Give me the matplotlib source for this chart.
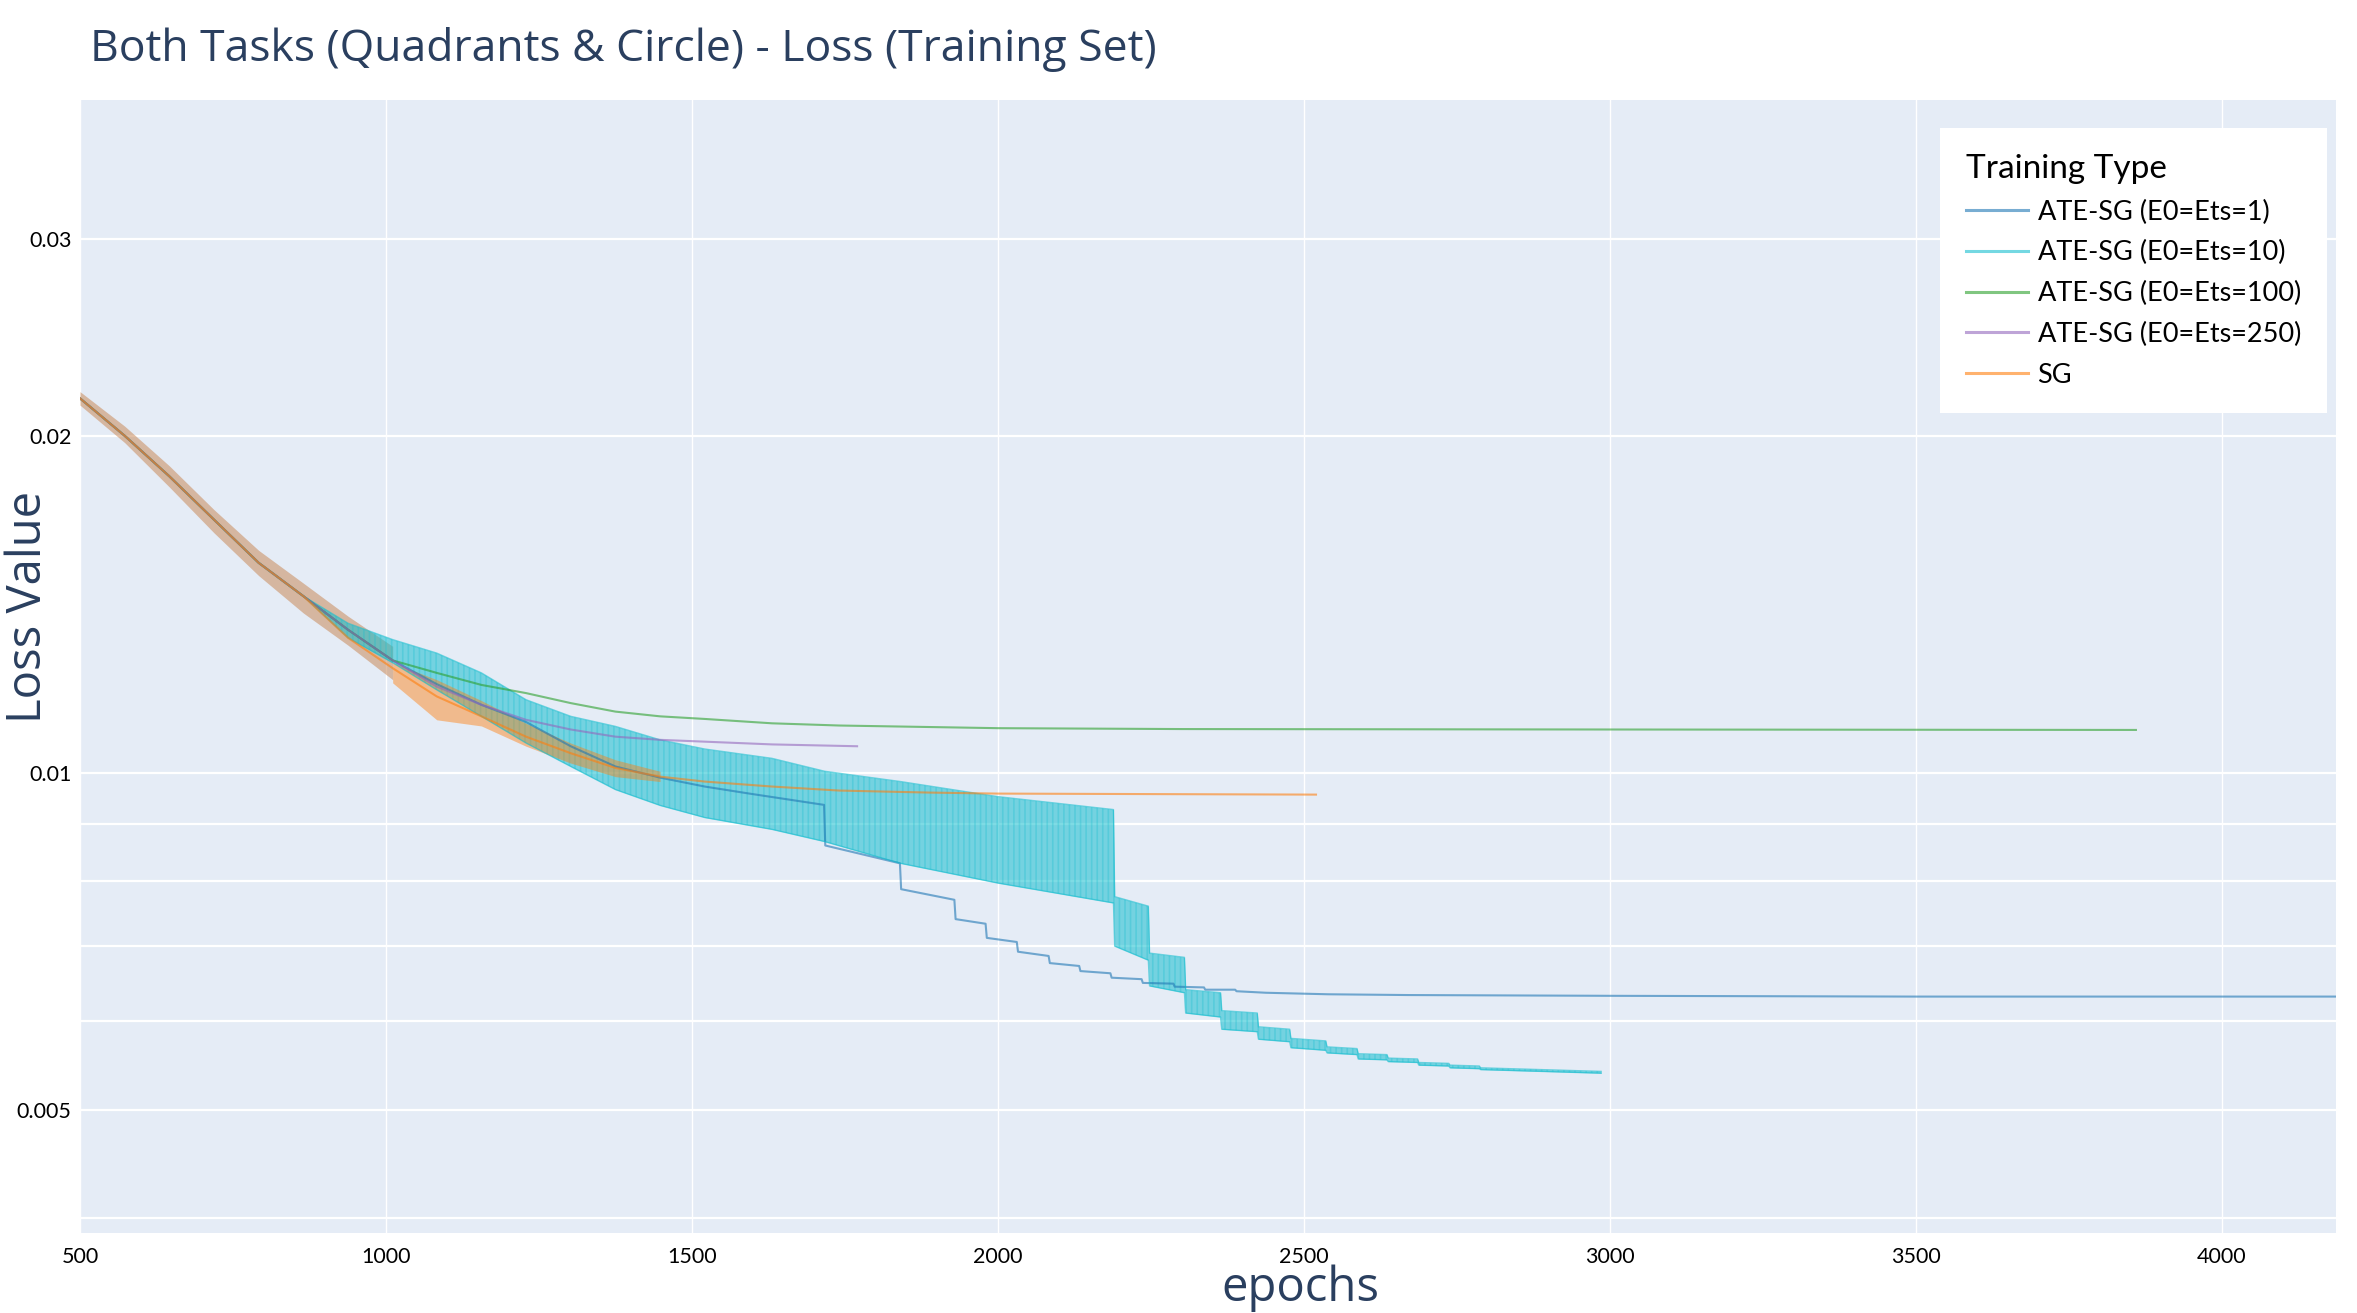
import matplotlib
matplotlib.use('Agg')
import matplotlib.pyplot as plt
from matplotlib.lines import Line2D
from matplotlib.ticker import FixedLocator, NullFormatter
import numpy as np

# ---- data (epochs, loss) ----
early_epochs = [500, 573, 646, 719, 792, 865, 938, 1011]
early_loss = [0.0216, 0.0200, 0.0184, 0.01683, 0.0154, 0.01438, 0.01342, 0.0126]
# spread of the noisy bundle that all runs share early on
bundle_hi = [0.0219, 0.0204, 0.0188, 0.01718, 0.0158, 0.01477, 0.0138, 0.01297]
bundle_lo = [0.0213, 0.01972, 0.0180, 0.01638, 0.0150, 0.01389, 0.0130, 0.01211]

# ATE-SG (E0=Ets=1)
e1_epochs = [1083, 1156, 1229, 1302, 1375, 1448, 1521, 1594, 1716, 1718, 1840, 1842,
             1929, 1931, 1980, 1982, 2031, 2033, 2083, 2085, 2133, 2135, 2184, 2186,
             2235, 2237, 2287, 2289, 2337, 2339, 2388, 2390, 2438, 2540, 2670, 3000,
             3500, 4300]
e1_loss = [0.0120, 0.0115, 0.0111, 0.01056, 0.01013, 0.0099, 0.00972, 0.00958, 0.00936,
           0.00861, 0.0083, 0.00787, 0.0077, 0.0074, 0.00733, 0.00712, 0.00706, 0.00692,
           0.00686, 0.00676, 0.00672, 0.00665, 0.00662, 0.00656, 0.00654, 0.00649,
           0.00648, 0.00644, 0.00643, 0.0064, 0.0064, 0.00638, 0.00636, 0.00634,
           0.00633, 0.00632, 0.00631, 0.00631]

# ATE-SG (E0=Ets=10): single line early, then an oscillating band (low/high envelope)
e10_line_epochs = [500, 573, 646, 719, 792, 865]
e10_line_loss = [0.0216, 0.0200, 0.0184, 0.01683, 0.0154, 0.01438]
e10_band_epochs = [865, 938, 1011, 1083, 1156, 1229, 1302, 1375, 1448, 1521, 1631, 1717,
                   1841, 2000, 2189, 2191, 2246, 2248, 2305, 2307, 2364, 2366, 2424,
                   2426, 2477, 2479, 2536, 2538, 2587, 2589, 2636, 2638, 2686, 2688,
                   2737, 2739, 2787, 2789, 2888, 2986]
e10_band_hi = [0.01438, 0.0136, 0.01315, 0.01279, 0.01228, 0.01162, 0.01123, 0.0110,
               0.0107, 0.0105, 0.0103, 0.01003, 0.00982, 0.00952, 0.00927, 0.00775,
               0.0076, 0.0069, 0.00684, 0.0064, 0.00636, 0.00613, 0.0061, 0.00593,
               0.0059, 0.00579, 0.00576, 0.00569, 0.00567, 0.00561, 0.0056, 0.00556,
               0.00555, 0.00551, 0.0055, 0.00548, 0.00547, 0.00545, 0.00543, 0.00541]
e10_band_lo = [0.01438, 0.0132, 0.01254, 0.01186, 0.01123, 0.01063, 0.01013, 0.00966,
               0.00935, 0.00912, 0.0089, 0.00868, 0.0083, 0.00797, 0.00765, 0.0070,
               0.0068, 0.00645, 0.00636, 0.0061, 0.00605, 0.0059, 0.00587, 0.00578,
               0.00575, 0.00568, 0.00565, 0.00562, 0.0056, 0.00555, 0.00554, 0.00552,
               0.00551, 0.00548, 0.00547, 0.00545, 0.00544, 0.00543, 0.00541, 0.00539]

# ATE-SG (E0=Ets=100)
e100_epochs = [1083, 1156, 1229, 1302, 1375, 1448, 1521, 1631, 1741, 2000, 2300, 3000, 3860]
e100_loss = [0.01228, 0.01198, 0.01178, 0.01154, 0.01134, 0.01123, 0.01117, 0.01107,
             0.01102, 0.01096, 0.01094, 0.01093, 0.01092]

# ATE-SG (E0=Ets=250)
e250_epochs = [1083, 1156, 1229, 1302, 1375, 1448, 1521, 1631, 1770]
e250_loss = [0.01194, 0.0115, 0.01115, 0.01093, 0.01077, 0.0107, 0.01066, 0.0106, 0.01056]

# SG (plus the spread of its noisy stretch)
sg_epochs = [938, 1011, 1083, 1156, 1229, 1302, 1375, 1448, 1521, 1631, 1741, 1888, 2000,
             2255, 2520]
sg_loss = [0.0132, 0.0124, 0.0117, 0.01123, 0.01077, 0.01041, 0.0101, 0.00992, 0.00982,
           0.00972, 0.00964, 0.0096, 0.00958, 0.00957, 0.00956]
sg_band_epochs = [1011, 1083, 1156, 1229, 1302, 1375, 1448]
sg_band_hi = [0.01254, 0.01211, 0.0116, 0.01107, 0.01063, 0.01027, 0.01003]
sg_band_lo = [0.01203, 0.01115, 0.01101, 0.01056, 0.0102, 0.00992, 0.00982]

labels = ['ATE-SG (E0=Ets=1)', 'ATE-SG (E0=Ets=10)', 'ATE-SG (E0=Ets=100)',
          'ATE-SG (E0=Ets=250)', 'SG']
colors = ['#1f77b4', '#17becf', '#2ca02c', '#9467bd', '#ff7f0e']

y_major = [0.005, 0.01, 0.02, 0.03]
y_major_labels = ['0.005', '0.01', '0.02', '0.03']
y_minor = [0.004, 0.006, 0.007, 0.008, 0.009, 0.04]
x_ticks = [500, 1000, 1500, 2000, 2500, 3000, 3500, 4000]

W, H = 2357, 1313
ALPHA = 0.6
LW = 1.5
TITLE_C = '#2a3f5f'
plt.rcParams['hatch.linewidth'] = 1.2

fig = plt.figure(figsize=(W / 100, H / 100), dpi=100)
left, right, top, bottom = 80, 2336, 100, 1233
ax = fig.add_axes([left / W, 1 - bottom / H, (right - left) / W, (bottom - top) / H])
ax.set_facecolor('#E5ECF6')
for s in ax.spines.values():
    s.set_visible(False)

ax.set_yscale('log')
ax.set_xlim(500, 4187)
ax.set_ylim(0.00388, 0.0399)


def join(a, b):
    return np.asarray(list(a) + list(b))


# noisy start shared by every run
ax.fill_between(early_epochs, bundle_lo, bundle_hi, color='#c98a5a', alpha=0.55, lw=0)

# trace order as in the original: blue, cyan, green, purple, orange
ax.plot(join(early_epochs, e1_epochs), join(early_loss, e1_loss), color=colors[0],
        alpha=ALPHA, lw=LW)
ax.plot(e10_line_epochs, e10_line_loss, color=colors[1], alpha=ALPHA, lw=LW)
ax.fill_between(e10_band_epochs, e10_band_lo, e10_band_hi, color=colors[1], alpha=0.55,
                lw=0)
ax.fill_between(e10_band_epochs, e10_band_lo, e10_band_hi, facecolor='none',
                edgecolor=colors[1], hatch='|||', alpha=0.3, lw=0)
ax.plot(e10_band_epochs, e10_band_hi, color=colors[1], alpha=ALPHA, lw=1.0)
ax.plot(e10_band_epochs, e10_band_lo, color=colors[1], alpha=ALPHA, lw=1.0)
ax.plot(join(early_epochs, e100_epochs), join(early_loss, e100_loss), color=colors[2],
        alpha=ALPHA, lw=LW)
ax.plot(join(early_epochs, e250_epochs), join(early_loss, e250_loss), color=colors[3],
        alpha=ALPHA, lw=LW)
ax.fill_between(sg_band_epochs, sg_band_lo, sg_band_hi, color=colors[4], alpha=0.45, lw=0)
ax.plot(join(early_epochs[:-2], sg_epochs), join(early_loss[:-2], sg_loss), color=colors[4],
        alpha=ALPHA, lw=LW)

ax.set_yticks(y_major)
ax.set_yticklabels(y_major_labels)
ax.yaxis.set_minor_locator(FixedLocator(y_minor))
ax.yaxis.set_minor_formatter(NullFormatter())
ax.set_xticks(x_ticks)
ax.set_xticklabels([str(v) for v in x_ticks])
ax.tick_params(axis='both', which='both', length=0, labelsize=15.5, colors='black')
ax.tick_params(axis='y', pad=6)
ax.tick_params(axis='x', pad=10)
for lab in ax.get_xticklabels() + ax.get_yticklabels():
    lab.set_family('Lato')
ax.grid(True, axis='y', which='both', color='white', lw=1.6)
ax.grid(True, axis='x', which='major', color='white', lw=1.0)
ax.set_axisbelow(True)

fig.text(90 / W, 1 - 50 / H, 'Both Tasks (Quadrants & Circle) - Loss (Training Set)',
         fontsize=32, color=TITLE_C, family='Open Sans', ha='left', va='center')
fig.text(28 / W, 1 - 607 / H, 'Loss Value', fontsize=34, color=TITLE_C, family='Open Sans',
         rotation=90, ha='center', va='center')
fig.text(1300 / W, 1 - 1288 / H, 'epochs', fontsize=34, color=TITLE_C, family='Open Sans',
         ha='center', va='center')

handles = [Line2D([0], [0], color=c, alpha=ALPHA, lw=2.2) for c in colors]
leg = ax.legend(handles, labels, title='Training Type', loc='upper left',
                bbox_to_anchor=(1940 / W, 1 - 128 / H), bbox_transform=fig.transFigure,
                borderaxespad=0, frameon=True, fancybox=False, framealpha=1,
                facecolor='white', edgecolor='white', title_fontsize=24,
                handlelength=2.3, handletextpad=0.35, labelspacing=0.58, borderpad=0.95,
                alignment='left', prop={'family': 'Lato', 'size': 19.5})
leg.get_title().set_family('Lato')
leg.get_frame().set_linewidth(0)

fig.savefig('out.png', dpi=100)
